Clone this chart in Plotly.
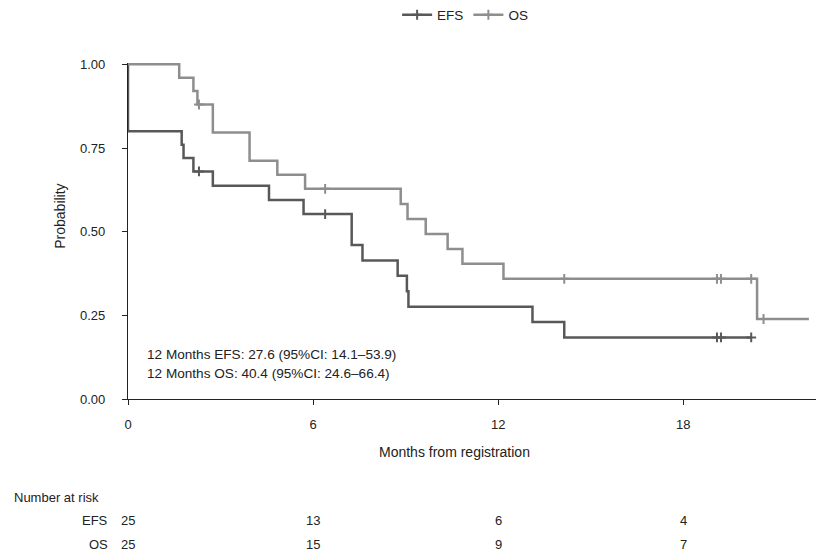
import plotly.graph_objects as go

# ---- Data ----
efs_t = [0, 0, 1.74, 1.80, 2.12, 2.75, 4.57, 5.69, 7.25, 7.60, 8.74, 9.04, 9.09, 13.11, 14.14, 20.2]
efs_s = [1.0, 0.80, 0.76, 0.72, 0.68, 0.6375, 0.595, 0.5525, 0.460, 0.414, 0.368, 0.322, 0.276, 0.230, 0.184, 0.184]
efs_cens_t = [2.30, 6.39, 19.09, 19.22, 20.2]
efs_cens_s = [0.68, 0.5525, 0.184, 0.184, 0.184]

os_t = [0, 1.66, 2.12, 2.25, 2.75, 3.94, 4.84, 5.74, 8.84, 9.06, 9.65, 10.36, 10.84, 12.17, 20.39, 22.07]
os_s = [1.0, 0.96, 0.92, 0.88, 0.796, 0.712, 0.670, 0.628, 0.583, 0.538, 0.493, 0.448, 0.404, 0.359, 0.239, 0.239]
os_cens_t = [2.30, 6.39, 14.14, 19.09, 19.22, 20.2, 20.6]
os_cens_s = [0.88, 0.628, 0.359, 0.359, 0.359, 0.359, 0.239]

risk_times = [0, 6, 12, 18]
risk_efs = [25, 13, 6, 4]
risk_os = [25, 15, 9, 7]

x_ticks = [0, 6, 12, 18]
y_ticks = [0, 0.25, 0.5, 0.75, 1.0]
y_ticklabels = ["0.00", "0.25", "0.50", "0.75", "1.00"]

summary_lines = ["12 Months EFS: 27.6 (95%CI: 14.1–53.9)",
                 "12 Months OS: 40.4 (95%CI: 24.6–66.4)"]

EFS_COLOR = "#585858"
OS_COLOR = "#8e8e8e"
FONT = "Liberation Sans, Arial, sans-serif"
TXT = "#222222"

fig = go.Figure()

for t, s, ct, cs, col, name in [
    (efs_t, efs_s, efs_cens_t, efs_cens_s, EFS_COLOR, "EFS"),
    (os_t, os_s, os_cens_t, os_cens_s, OS_COLOR, "OS"),
]:
    fig.add_trace(go.Scatter(x=t, y=s, mode="lines", line=dict(color=col, width=2.5, shape="hv"),
                             showlegend=False, hoverinfo="skip"))
    fig.add_trace(go.Scatter(x=ct, y=cs, mode="markers", showlegend=False, cliponaxis=False,
                             marker=dict(symbol="cross-thin", size=7, line=dict(color=col, width=2))))
    # legend entry
    fig.add_trace(go.Scatter(x=[None], y=[None], mode="lines+markers", name=name,
                             line=dict(color=col, width=2.5),
                             marker=dict(symbol="cross-thin", size=7, line=dict(color=col, width=2))))

annotations = []
# summary text
for i, txt in enumerate(summary_lines):
    annotations.append(dict(x=0.55, y=0.133 - i * 0.057, xref="x", yref="y", text=txt, showarrow=False,
                            xanchor="left", yanchor="middle", font=dict(family=FONT, size=13.6, color=TXT)))

# axis titles
annotations.append(dict(x=0.475, y=-0.158, xref="paper", yref="paper", text="Months from registration",
                        showarrow=False, xanchor="center", yanchor="middle",
                        font=dict(family=FONT, size=14, color=TXT)))
annotations.append(dict(x=-0.099, y=0.545, xref="paper", yref="paper", text="Probability", textangle=-90,
                        showarrow=False, xanchor="center", yanchor="middle",
                        font=dict(family=FONT, size=14, color=TXT)))

# number at risk table
annotations.append(dict(x=-0.1686, y=-0.2917, xref="paper", yref="paper", text="Number at risk",
                        showarrow=False, xanchor="left", yanchor="middle",
                        font=dict(family=FONT, size=13, color=TXT)))
for row_y, label, vals in [(-0.363, "EFS", risk_efs), (-0.4345, "OS", risk_os)]:
    annotations.append(dict(x=-0.026, y=row_y, xref="paper", yref="paper", text=label,
                            showarrow=False, xanchor="right", yanchor="middle",
                            font=dict(family=FONT, size=13, color=TXT)))
    for tt, v in zip(risk_times, vals):
        annotations.append(dict(x=tt, y=row_y, xref="x", yref="paper", text=str(v),
                                showarrow=False, xanchor="center", yanchor="middle",
                                font=dict(family=FONT, size=13, color=TXT)))

fig.update_layout(
    width=821, height=555, autosize=False,
    margin=dict(l=128, r=5, t=63, b=156, autoexpand=False),
    plot_bgcolor="white", paper_bgcolor="white",
    font=dict(family=FONT, size=13, color=TXT),
    showlegend=True,
    legend=dict(orientation="h", x=0.49, y=1.143, xanchor="center", yanchor="middle",
                font=dict(family=FONT, size=13.5, color=TXT), itemwidth=30,
                tracegroupgap=0, bgcolor="rgba(0,0,0,0)"),
    annotations=annotations,
    xaxis=dict(range=[0, 22.3], tickvals=x_ticks, ticks="outside", ticklen=5, tickcolor=TXT,
               showline=True, linecolor=TXT, linewidth=1.2, showgrid=False, zeroline=False,
               ticklabelstandoff=8, tickfont=dict(family=FONT, size=13, color=TXT)),
    yaxis=dict(range=[0, 1.004], tickvals=y_ticks, ticktext=y_ticklabels, ticks="outside", ticklen=5,
               tickcolor=TXT, showline=True, linecolor=TXT, linewidth=1.2, showgrid=False,
               zeroline=False, ticklabelstandoff=14, tickfont=dict(family=FONT, size=13, color=TXT)),
)

fig.write_html("out.html", config={"displayModeBar": False},
               post_script="document.body.style.margin='0';document.body.style.overflow='hidden';")
